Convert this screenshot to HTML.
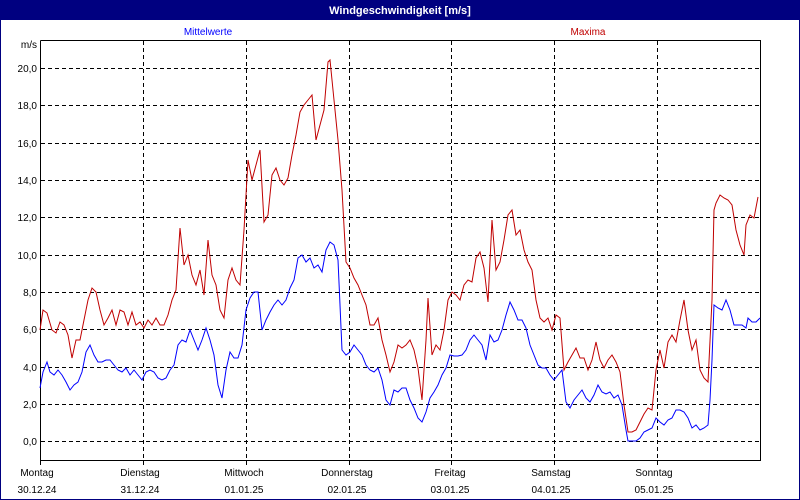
<!DOCTYPE html>
<html><head><meta charset="utf-8"><style>
body{margin:0;background:#fff;}
svg{display:block;font-family:"Liberation Sans",sans-serif;}
</style></head><body>
<svg width="800" height="500" xmlns="http://www.w3.org/2000/svg">
<rect x="0" y="0" width="800" height="500" fill="#fff"/>
<rect x="0.5" y="0.5" width="799" height="499" fill="none" stroke="#000080"/>
<rect x="0" y="0" width="800" height="20" fill="#000080"/>
<text x="400" y="14" fill="#fff" font-size="11" font-weight="bold" text-anchor="middle">Windgeschwindigkeit [m/s]</text>
<text x="208" y="35" fill="#0000ff" font-size="10" text-anchor="middle">Mittelwerte</text>
<text x="588" y="35" fill="#c00000" font-size="10" text-anchor="middle">Maxima</text>
<text x="37" y="48" font-size="10" text-anchor="end">m/s</text>
<g stroke="#000" stroke-dasharray="4,3" stroke-width="1">
<line x1="41" x2="760" y1="68.5" y2="68.5"/><line x1="41" x2="760" y1="105.5" y2="105.5"/><line x1="41" x2="760" y1="143.5" y2="143.5"/><line x1="41" x2="760" y1="180.5" y2="180.5"/><line x1="41" x2="760" y1="217.5" y2="217.5"/><line x1="41" x2="760" y1="255.5" y2="255.5"/><line x1="41" x2="760" y1="292.5" y2="292.5"/><line x1="41" x2="760" y1="329.5" y2="329.5"/><line x1="41" x2="760" y1="367.5" y2="367.5"/><line x1="41" x2="760" y1="404.5" y2="404.5"/><line x1="41" x2="760" y1="441.5" y2="441.5"/>
<line x1="143.5" x2="143.5" y1="41" y2="465"/><line x1="246.5" x2="246.5" y1="41" y2="465"/><line x1="349.5" x2="349.5" y1="41" y2="465"/><line x1="451.5" x2="451.5" y1="41" y2="465"/><line x1="554.5" x2="554.5" y1="41" y2="465"/><line x1="657.5" x2="657.5" y1="41" y2="465"/>
</g>
<polyline fill="none" stroke="#000" points="40.5,40.5 760.5,40.5 760.5,460.5 40.5,460.5 40.5,40.5"/>
<line x1="40.5" x2="40.5" y1="460" y2="465" stroke="#000"/>
<g font-size="10" text-anchor="end">
<text x="37" y="72">20,0</text><text x="37" y="109">18,0</text><text x="37" y="147">16,0</text><text x="37" y="184">14,0</text><text x="37" y="221">12,0</text><text x="37" y="259">10,0</text><text x="37" y="296">8,0</text><text x="37" y="333">6,0</text><text x="37" y="371">4,0</text><text x="37" y="408">2,0</text><text x="37" y="445">0,0</text>
</g>
<g font-size="10" text-anchor="middle">
<text x="37" y="476">Montag</text><text x="37" y="493">30.12.24</text>
<text x="140" y="476">Dienstag</text><text x="140" y="493">31.12.24</text>
<text x="244" y="476">Mittwoch</text><text x="244" y="493">01.01.25</text>
<text x="347" y="476">Donnerstag</text><text x="347" y="493">02.01.25</text>
<text x="450" y="476">Freitag</text><text x="450" y="493">03.01.25</text>
<text x="551" y="476">Samstag</text><text x="551" y="493">04.01.25</text>
<text x="654" y="476">Sonntag</text><text x="654" y="493">05.01.25</text>
</g>
<polyline fill="none" stroke="#c00000" stroke-width="1" points="40,330 43,310 47,313 52,330 56,333 60,322 64,325 68,335 72,358 76,340 80,340 84,320 88,300 92,288 96,292 100,310 104,325 108,318 112,310 116,325 120,310 124,312 128,325 132,312 136,325 140,322 144,328 148,320 152,325 156,318 160,325 164,325 168,315 172,300 176,290 180,228 184,265 188,255 192,275 196,285 200,270 204,295 208,240 212,275 216,285 220,310 224,318 228,280 232,268 236,280 240,285 244,230 248,160 252,180 256,165 260,150 264,222 268,215 272,175 276,168 280,180 284,185 288,178 292,155 296,135 300,112 304,105 308,100 312,95 316,140 320,125 324,110 328,62 330,60 334,100 338,140 342,190 346,262 350,268 354,278 358,285 362,295 366,305 370,325 374,325 378,318 382,340 386,355 390,372 394,362 398,345 402,348 406,345 410,340 414,350 418,368 422,400 426,340 428,298 432,355 436,345 440,350 444,330 448,300 452,292 456,295 460,300 464,285 468,280 472,282 476,258 480,252 484,268 488,302 492,220 496,270 500,262 504,240 508,215 512,210 516,235 520,230 524,250 528,262 532,270 536,300 540,318 544,322 548,318 552,330 556,315 560,318 564,370 568,362 572,355 576,348 580,358 584,358 588,370 592,360 596,342 600,360 604,368 608,360 612,355 616,362 620,372 624,405 628,432 632,432 636,430 640,422 644,414 648,408 652,410 656,370 660,350 664,368 668,342 672,335 676,342 680,320 684,300 688,330 692,350 696,340 700,370 704,378 708,382 712,300 714,210 716,203 720,195 724,198 728,200 732,205 736,230 740,245 744,255 746,225 750,215 754,218 758,197"/>
<polyline fill="none" stroke="#0000ff" stroke-width="1" points="40,388 43,372 47,362 50,372 54,375 58,370 62,375 66,382 70,390 74,385 78,382 82,372 86,352 90,345 94,355 98,362 102,362 106,360 110,360 114,365 118,370 122,372 126,368 130,375 134,370 138,375 142,380 146,372 150,370 154,372 158,378 162,380 166,378 170,370 174,365 178,345 182,340 186,342 190,330 194,340 198,350 202,340 206,328 210,340 214,355 218,385 222,398 226,370 230,352 234,358 238,358 242,345 246,310 250,298 254,292 258,292 262,330 266,320 270,312 274,305 278,300 282,305 286,300 290,288 294,280 298,258 302,255 306,262 310,258 314,268 318,265 322,272 326,250 330,242 334,245 338,260 342,350 346,355 350,352 354,345 358,350 362,355 366,365 370,370 374,372 378,368 382,380 386,400 390,405 394,390 398,392 402,388 406,388 410,400 414,408 418,418 422,422 426,412 430,398 434,392 438,385 442,375 446,368 450,355 454,356 458,356 462,355 466,350 470,340 474,335 478,340 482,345 486,360 490,335 494,342 498,340 502,330 506,315 510,302 514,310 518,320 522,320 526,328 530,345 534,355 538,365 542,368 546,368 550,375 554,380 558,375 562,370 566,402 570,408 574,400 578,395 582,390 586,398 590,402 594,395 598,385 602,392 606,394 610,392 614,398 618,395 622,405 626,430 628,441 632,441 636,441 640,438 644,432 648,430 652,428 656,418 660,422 664,425 668,420 672,418 676,410 680,410 684,412 688,418 692,428 696,425 700,430 704,428 708,425 710,400 712,360 714,305 718,308 722,310 726,300 730,310 734,325 738,325 742,325 746,328 748,318 752,322 756,322 760,318"/>
</svg>
</body></html>
